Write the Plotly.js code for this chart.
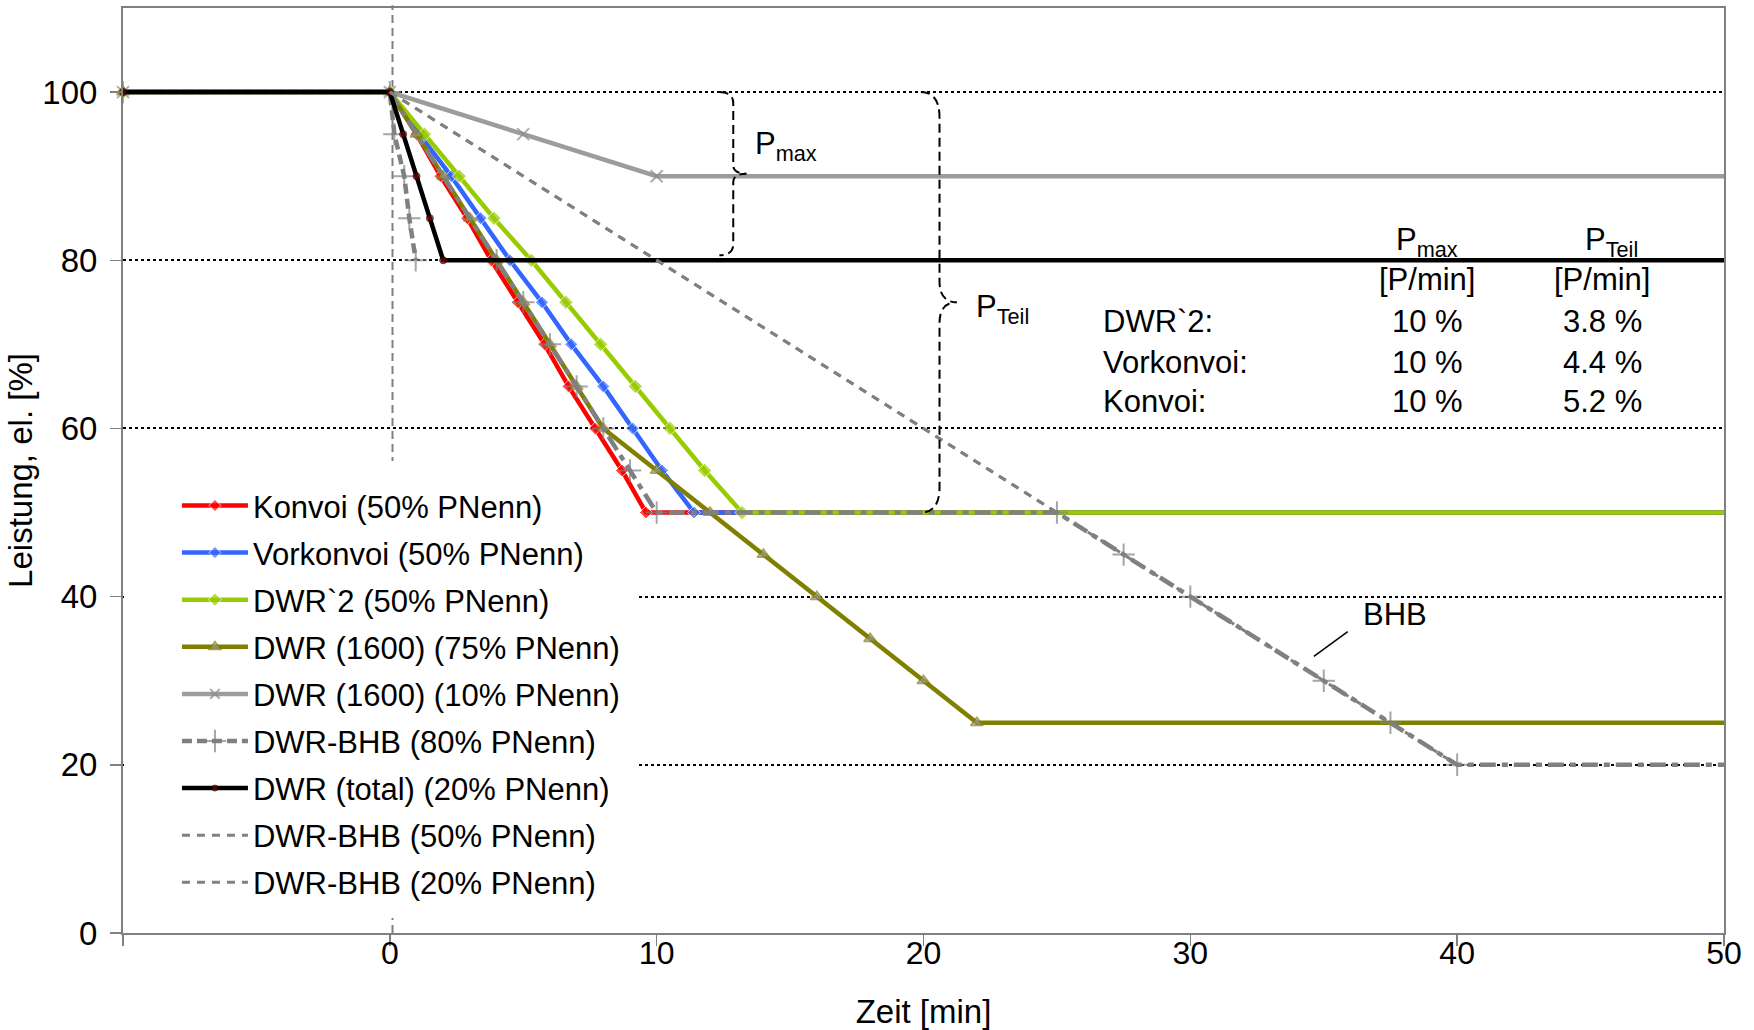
<!DOCTYPE html>
<html><head><meta charset="utf-8">
<script src="https://cdn.plot.ly/plotly-3.0.1.min.js"></script>
<style>html,body{margin:0;padding:0;background:#fff}#chart{width:1754px;height:1030px}</style>
</head><body><div id="chart"></div>
<script>
// ---- data ----
const xTickVals = [-10, 0, 10, 20, 30, 40, 50];
const xTickText = ['', '0', '10', '20', '30', '40', '50'];
const yTickVals = [0, 20, 40, 60, 80, 100];

const konvoiX = [-10, 0, 1, 1.9, 2.9, 3.8, 4.8, 5.8, 6.7, 7.7, 8.7, 9.6, 50];
const konvoiY = [100, 100, 95, 90, 85, 80, 75, 70, 65, 60, 55, 50, 50];
const vorkonvoiX = [-10, 0, 1.1, 2.3, 3.4, 4.5, 5.7, 6.8, 8.0, 9.1, 10.2, 11.4, 50];
const vorkonvoiY = [100, 100, 95, 90, 85, 80, 75, 70, 65, 60, 55, 50, 50];
const dwr2X = [-10, 0, 1.3, 2.6, 3.9, 5.3, 6.6, 7.9, 9.2, 10.5, 11.8, 13.2, 50];
const dwr2Y = [100, 100, 95, 90, 85, 80, 75, 70, 65, 60, 55, 50, 50];
const dwr1600aX = [-10, 0, 1, 2, 3, 4, 5, 6, 7, 8, 10, 12, 14, 16, 18, 20, 22, 50];
const dwr1600aY = [100, 100, 95, 90, 85, 80, 75, 70, 65, 60, 55, 50, 45, 40, 35, 30, 25, 25];
const dwr1600bX = [-10, 0, 5, 10, 50];
const dwr1600bY = [100, 100, 95, 90, 90];
const bhb80X = [-10, 0, 0.17, 0.54, 0.73, 0.97];
const bhb80Y = [100, 100, 95, 90, 85, 80];
const bhbPathX = [0, 4, 5, 6, 7, 8, 9, 10, 25, 27.5, 30, 35, 37.5, 40, 50];
const bhbPathY = [100, 80, 75, 70, 65, 60, 55, 50, 50, 45, 40, 30, 25, 20, 20];
const totalX = [-10, 0, 0.5, 1, 1.5, 2, 50];
const totalY = [100, 100, 95, 90, 85, 80, 80];
const bhb50X = [0, 25];
const bhb50Y = [100, 50];
const bhb20X = [0, 40];
const bhb20Y = [100, 20];

const tableRows = ['DWR`2:', 'Vorkonvoi:', 'Konvoi:'];
const tablePmax = ['10 %', '10 %', '10 %'];
const tablePTeil = ['3.8 %', '4.4 %', '5.2 %'];

// ---- styling ----
const FONT = '"Liberation Sans", Arial, Helvetica, sans-serif';
const XMAX = 50;
const LW = 4.5;
function sizes(xs, s, skipFirst) {
  return xs.map((x, i) => (x >= XMAX || (skipFirst && i === 0)) ? 0 : s);
}
function trace(name, x, y, line, marker, extra) {
  const t = {
    type: 'scatter', mode: marker ? 'lines+markers' : 'lines', name: name,
    x: x, y: y, line: line, legendgroup: name, cliponaxis: false
  };
  if (marker) t.marker = marker;
  return Object.assign(t, extra || {});
}

const traces = [
  trace('Konvoi (50% PNenn)', konvoiX, konvoiY, {color: '#FF0000', width: LW},
    {symbol: 'diamond', size: sizes(konvoiX, 10), color: '#FF0000'}),
  trace('Vorkonvoi (50% PNenn)', vorkonvoiX, vorkonvoiY, {color: '#3366FF', width: LW},
    {symbol: 'diamond', size: sizes(vorkonvoiX, 10), color: '#3366FF'}),
  trace('DWR`2 (50% PNenn)', dwr2X, dwr2Y, {color: '#99CC00', width: LW},
    {symbol: 'diamond', size: sizes(dwr2X, 11), color: '#99CC00'}),
  trace('DWR (1600) (75% PNenn)', dwr1600aX, dwr1600aY, {color: '#808000', width: LW},
    {symbol: 'triangle-up', size: sizes(dwr1600aX, 11), color: '#969696', line: {color: '#808000', width: 1.5}}),
  trace('DWR (1600) (10% PNenn)', dwr1600bX, dwr1600bY, {color: '#9C9C9C', width: LW},
    {symbol: 'x-thin-open', size: sizes(dwr1600bX, 12), color: '#8C8C8C', line: {color: '#8C8C8C', width: 2}}),
  trace('DWR-BHB (80% PNenn)', bhb80X, bhb80Y, {color: '#808080', width: LW, dash: '10px,5px'},
    {symbol: 'cross-thin-open', size: sizes(bhb80X, 16), color: '#808080', line: {color: '#808080', width: 2}}),
  trace('DWR-BHB (80% PNenn)', bhbPathX, bhbPathY, {color: '#808080', width: LW, dash: '16px,6px,6px,6px'},
    {symbol: 'cross-thin-open', size: sizes(bhbPathX, 16, true), color: '#808080', line: {color: '#808080', width: 2}},
    {showlegend: false, legendgroup: 'DWR-BHB (80% PNenn)'}),
  trace('DWR (total) (20% PNenn)', totalX, totalY, {color: '#000000', width: LW},
    {symbol: 'circle', size: sizes(totalX, 7), color: '#800000'}),
  trace('DWR-BHB (50% PNenn)', bhb50X, bhb50Y, {color: '#808080', width: 3, dash: '8px,7px'}, null),
  trace('DWR-BHB (20% PNenn)', bhb20X, bhb20Y, {color: '#808080', width: 3, dash: '8px,7px'}, null)
];

// curly brace path in data coordinates
function brace(xl, xv, xt, yTop, yBot, r, r2) {
  const ym = (yTop + yBot) / 2;
  return 'M' + xl + ',' + yTop +
    ' Q' + xv + ',' + yTop + ' ' + xv + ',' + (yTop - r) +
    ' L' + xv + ',' + (ym + r2) +
    ' Q' + xv + ',' + ym + ' ' + xt + ',' + ym +
    ' Q' + xv + ',' + ym + ' ' + xv + ',' + (ym - r2) +
    ' L' + xv + ',' + (yBot + r) +
    ' Q' + xv + ',' + yBot + ' ' + xl + ',' + yBot;
}

// pixel helpers for the legend cover (plot area: 123..1724 x 8..933)
const PL = 123, PR = 1724, PT = 8, PB = 933;
const px = v => (v - PL) / (PR - PL);
const py = v => 1 - (v - PT) / (PB - PT);

const shapes = [
  {type: 'line', layer: 'between', xref: 'x', yref: 'paper', x0: 0.1, x1: 0.1, y0: 0, y1: 1.003,
    line: {color: '#808080', width: 2, dash: '8px,5px'}},
  {type: 'rect', layer: 'above', xref: 'paper', yref: 'paper', x0: px(PL + 1), x1: px(637), y0: py(918), y1: py(520),
    fillcolor: '#FFFFFF', line: {width: 0}},
  {type: 'rect', layer: 'above', xref: 'paper', yref: 'paper', x0: px(380), x1: px(405), y0: py(520), y1: py(461),
    fillcolor: '#FFFFFF', line: {width: 0}},
  {type: 'path', xref: 'x', yref: 'y', path: brace(12.35, 12.87, 13.37, 100, 80.6, 1.3, 1.0),
    line: {color: '#000000', width: 2, dash: '9px,5px'}},
  {type: 'path', xref: 'x', yref: 'y', path: brace(19.9, 20.6, 21.25, 100, 50, 3.0, 2.5),
    line: {color: '#000000', width: 2, dash: '9px,5px'}},
  {type: 'line', xref: 'x', yref: 'y', x0: 34.63, y0: 32.9, x1: 35.9, y1: 35.85,
    line: {color: '#000000', width: 1.5}}
];

const annFont = {family: FONT, size: 31, color: '#000'};
function ann(text, x, y, xanchor) {
  return {text: text, x: x, y: y, xref: 'x', yref: 'y', xanchor: xanchor || 'center', yanchor: 'middle',
    showarrow: false, font: annFont};
}
const rowY = [72.7, 67.9, 63.25];
const annotations = [
  ann('P<sub>max</sub>', 13.62, 93.6, 'left'),
  ann('P<sub>Teil</sub>', 21.9, 74.2, 'left'),
  ann('P<sub>max</sub>', 38.87, 82.2),
  ann('P<sub>Teil</sub>', 45.8, 82.2),
  ann('[P/min]', 38.87, 77.7),
  ann('[P/min]', 45.43, 77.7),
  ann('BHB', 36.4, 37.9, 'left')
];
tableRows.forEach((r, i) => {
  annotations.push(ann(r, 26.64, rowY[i], 'left'));
  annotations.push(ann(tablePmax[i], 38.87, rowY[i]));
  annotations.push(ann(tablePTeil[i], 45.43, rowY[i]));
});

const axisCommon = {
  ticks: 'outside', ticklen: 11, tickwidth: 1.5, tickcolor: '#808080',
  showline: true, linecolor: '#808080', linewidth: 2, mirror: true, zeroline: false
};

const layout = {
  width: 1754, height: 1030,
  margin: {l: PL, r: 1754 - PR, t: PT, b: 1030 - PB, pad: 0},
  paper_bgcolor: '#FFFFFF', plot_bgcolor: '#FFFFFF',
  font: {family: FONT, size: 31, color: '#000'},
  showlegend: true,
  legend: {x: 0.0337, xanchor: 'left', y: 0.491, yanchor: 'top', bgcolor: 'rgba(0,0,0,0)',
    borderwidth: 0, font: {family: FONT, size: 31, color: '#000'}, itemwidth: 66,
    traceorder: 'grouped', tracegroupgap: 3.8},
  xaxis: Object.assign({}, axisCommon, {
    range: [-10, 50], tickmode: 'array', tickvals: xTickVals, ticktext: xTickText,
    showgrid: false, ticklabelstandoff: -20,
    tickfont: {family: FONT, size: 32, color: '#000'},
    title: {text: 'Zeit [min]', font: {family: FONT, size: 33, color: '#000'}, standoff: 38}
  }),
  yaxis: Object.assign({}, axisCommon, {
    range: [0, 110], tickmode: 'array', tickvals: yTickVals,
    showgrid: true, gridcolor: '#000000', gridwidth: 2, griddash: '3px,3px', ticklabelstandoff: 6,
    tickfont: {family: FONT, size: 33, color: '#000'},
    title: {text: 'Leistung, el. [%]', font: {family: FONT, size: 33, color: '#000'}, standoff: 0}
  }),
  shapes: shapes,
  annotations: annotations
};

Plotly.newPlot('chart', traces, layout, {displayModeBar: false, staticPlot: true});
</script>
</body></html>
